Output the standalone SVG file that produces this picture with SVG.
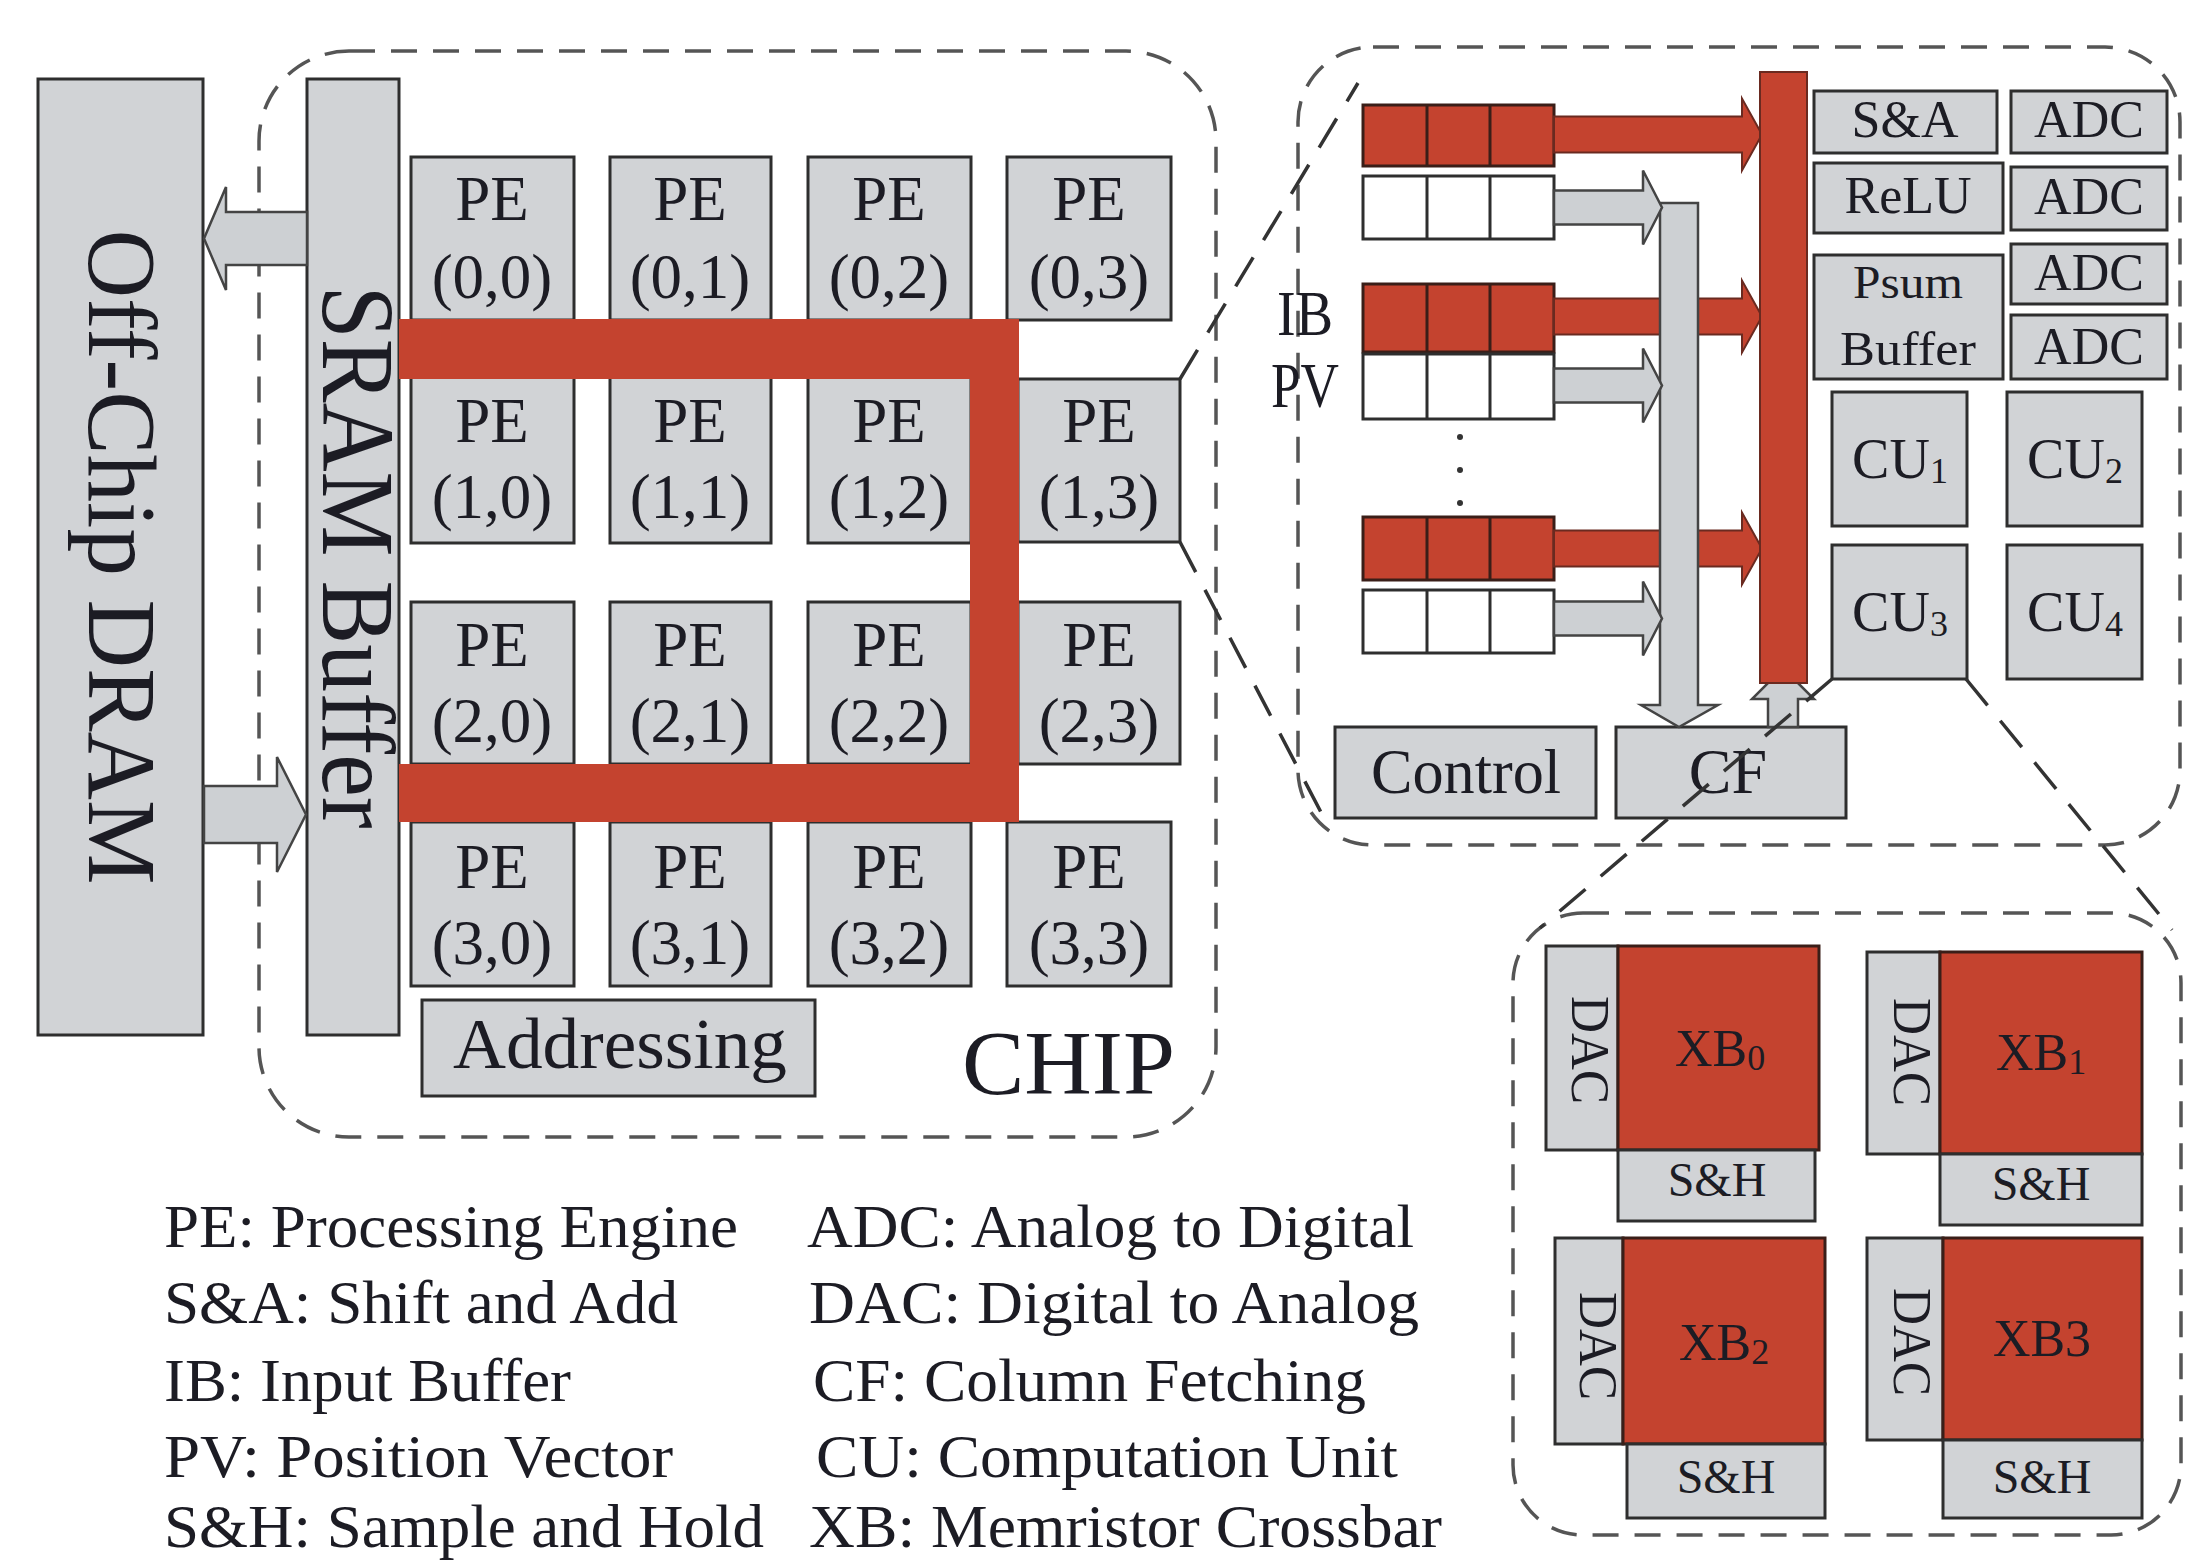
<svg xmlns="http://www.w3.org/2000/svg" width="2185" height="1562" viewBox="0 0 2185 1562">
<style>
.box{fill:#d1d3d6;stroke:#2e2e2e;stroke-width:3}
.red{fill:#c4432f;stroke:#3a1e18;stroke-width:3}
.wht{fill:#ffffff;stroke:#2e2e2e;stroke-width:3}
.t{font-family:"Liberation Serif","Times New Roman",serif;fill:#1c1c24}
.c{text-anchor:middle}
.pe{font-size:63px}
.lg{font-size:62px}
.sm{font-size:52px}
.dash{fill:none;stroke:#555;stroke-width:3.5;stroke-dasharray:26 16}
.zl{fill:none;stroke:#333;stroke-width:3.5;stroke-dasharray:34 20}
.garr{fill:#cdd0d3;stroke:#444;stroke-width:2.5;stroke-linejoin:miter}
.rarr{fill:#c4432f;stroke:#6a2a20;stroke-width:2}
</style>
<rect width="2185" height="1562" fill="#ffffff"/>

<!-- boundaries -->
<g id="chip-boundary"><rect class="dash" x="259" y="51" width="957" height="1086" rx="90"/></g>
<g id="pe-detail-boundary"><rect class="dash" x="1298" y="47" width="882" height="798" rx="75"/></g>
<g id="cu-detail-boundary"><rect class="dash" x="1513" y="913" width="668" height="622" rx="70"/></g>

<g id="dram"><rect class="box" x="38" y="79" width="165" height="956"/>
<text class="t c" transform="translate(121,557) rotate(90)" y="32" font-size="98" textLength="655" lengthAdjust="spacingAndGlyphs">Off-Chip DRAM</text></g>
<g id="sram"><rect class="box" x="307" y="79" width="92" height="956"/>
<text class="t c" transform="translate(357,557) rotate(90)" y="34" font-size="104" textLength="543" lengthAdjust="spacingAndGlyphs">SRAM Buffer</text></g>

<!-- PE grid -->
<g id="pe00"><rect class="box" x="411" y="157" width="163" height="163"/><text class="t c pe" x="492" y="220">PE</text><text class="t c pe" x="492" y="298">(0,0)</text></g>
<g id="pe01"><rect class="box" x="610" y="157" width="161" height="163"/><text class="t c pe" x="690" y="220">PE</text><text class="t c pe" x="690" y="298">(0,1)</text></g>
<g id="pe02"><rect class="box" x="808" y="157" width="163" height="163"/><text class="t c pe" x="889" y="220">PE</text><text class="t c pe" x="889" y="298">(0,2)</text></g>
<g id="pe03"><rect class="box" x="1007" y="157" width="164" height="163"/><text class="t c pe" x="1089" y="220">PE</text><text class="t c pe" x="1089" y="298">(0,3)</text></g>
<g id="pe10"><rect class="box" x="411" y="376" width="163" height="167"/><text class="t c pe" x="492" y="442">PE</text><text class="t c pe" x="492" y="518">(1,0)</text></g>
<g id="pe11"><rect class="box" x="610" y="376" width="161" height="167"/><text class="t c pe" x="690" y="442">PE</text><text class="t c pe" x="690" y="518">(1,1)</text></g>
<g id="pe12"><rect class="box" x="808" y="376" width="163" height="167"/><text class="t c pe" x="889" y="442">PE</text><text class="t c pe" x="889" y="518">(1,2)</text></g>
<g id="pe13"><rect class="box" x="1018" y="379" width="162" height="163"/><text class="t c pe" x="1099" y="442">PE</text><text class="t c pe" x="1099" y="518">(1,3)</text></g>
<g id="pe20"><rect class="box" x="411" y="602" width="163" height="162"/><text class="t c pe" x="492" y="666">PE</text><text class="t c pe" x="492" y="742">(2,0)</text></g>
<g id="pe21"><rect class="box" x="610" y="602" width="161" height="162"/><text class="t c pe" x="690" y="666">PE</text><text class="t c pe" x="690" y="742">(2,1)</text></g>
<g id="pe22"><rect class="box" x="808" y="602" width="163" height="162"/><text class="t c pe" x="889" y="666">PE</text><text class="t c pe" x="889" y="742">(2,2)</text></g>
<g id="pe23"><rect class="box" x="1018" y="602" width="162" height="162"/><text class="t c pe" x="1099" y="666">PE</text><text class="t c pe" x="1099" y="742">(2,3)</text></g>
<g id="pe30"><rect class="box" x="411" y="822" width="163" height="164"/><text class="t c pe" x="492" y="888">PE</text><text class="t c pe" x="492" y="964">(3,0)</text></g>
<g id="pe31"><rect class="box" x="610" y="822" width="161" height="164"/><text class="t c pe" x="690" y="888">PE</text><text class="t c pe" x="690" y="964">(3,1)</text></g>
<g id="pe32"><rect class="box" x="808" y="822" width="163" height="164"/><text class="t c pe" x="889" y="888">PE</text><text class="t c pe" x="889" y="964">(3,2)</text></g>
<g id="pe33"><rect class="box" x="1007" y="822" width="164" height="164"/><text class="t c pe" x="1089" y="888">PE</text><text class="t c pe" x="1089" y="964">(3,3)</text></g>

<g id="addressing"><rect class="box" x="422" y="1000" width="393" height="96"/><text class="t c" x="620" y="1068" font-size="72" textLength="334" lengthAdjust="spacingAndGlyphs">Addressing</text></g>
<g id="chip-label"><text class="t" x="962" y="1094" font-size="90" textLength="213" lengthAdjust="spacingAndGlyphs">CHIP</text></g>

<!-- PE detail -->
<g id="ib-pv-label"><text class="t c" x="1305" y="335" font-size="64" textLength="56" lengthAdjust="spacingAndGlyphs">IB</text><text class="t c" x="1305" y="407" font-size="64" textLength="68" lengthAdjust="spacingAndGlyphs">PV</text></g>
<g id="ib1"><rect class="red" x="1363" y="105" width="191" height="61"/><path d="M1427,105V166M1490,105V166" stroke="#3a1e18" stroke-width="3"/></g>
<g id="pv1"><rect class="wht" x="1363" y="176" width="191" height="63"/><path d="M1427,176V239M1490,176V239" stroke="#2e2e2e" stroke-width="3"/></g>
<g id="ib2"><rect class="red" x="1363" y="284" width="191" height="68"/><path d="M1427,284V352M1490,284V352" stroke="#3a1e18" stroke-width="3"/></g>
<g id="pv2"><rect class="wht" x="1363" y="354" width="191" height="65"/><path d="M1427,354V419M1490,354V419" stroke="#2e2e2e" stroke-width="3"/></g>
<g id="ib3"><rect class="red" x="1363" y="517" width="191" height="63"/><path d="M1427,517V580M1490,517V580" stroke="#3a1e18" stroke-width="3"/></g>
<g id="pv3"><rect class="wht" x="1363" y="590" width="191" height="63"/><path d="M1427,590V653M1490,590V653" stroke="#2e2e2e" stroke-width="3"/></g>
<g id="dots" fill="#333"><circle cx="1460" cy="437" r="3"/><circle cx="1460" cy="470" r="3"/><circle cx="1460" cy="503" r="3"/></g>

<g id="sa"><rect class="box" x="1814" y="91" width="183" height="62"/><text class="t c sm" x="1905" y="137">S&amp;A</text></g>
<g id="adc1"><rect class="box" x="2011" y="91" width="156" height="62"/><text class="t c sm" x="2089" y="137">ADC</text></g>
<g id="relu"><rect class="box" x="1814" y="163" width="189" height="70"/><text class="t c sm" x="1908" y="213">ReLU</text></g>
<g id="adc2"><rect class="box" x="2011" y="167" width="156" height="63"/><text class="t c sm" x="2089" y="214">ADC</text></g>
<g id="psum"><rect class="box" x="1814" y="255" width="189" height="124"/><text class="t c" x="1908" y="298" font-size="46" textLength="110" lengthAdjust="spacingAndGlyphs">Psum</text><text class="t c" x="1908" y="365" font-size="48" textLength="136" lengthAdjust="spacingAndGlyphs">Buffer</text></g>
<g id="adc3"><rect class="box" x="2011" y="244" width="156" height="60"/><text class="t c sm" x="2089" y="290">ADC</text></g>
<g id="adc4"><rect class="box" x="2011" y="315" width="156" height="64"/><text class="t c sm" x="2089" y="364">ADC</text></g>
<g id="cu1"><rect class="box" x="1832" y="392" width="135" height="134"/><text class="t c" x="1900" y="478" font-size="56">CU<tspan font-size="36" dy="5">1</tspan></text></g>
<g id="cu2"><rect class="box" x="2007" y="392" width="135" height="134"/><text class="t c" x="2075" y="478" font-size="56">CU<tspan font-size="36" dy="5">2</tspan></text></g>
<g id="cu3"><rect class="box" x="1832" y="545" width="135" height="134"/><text class="t c" x="1900" y="631" font-size="56">CU<tspan font-size="36" dy="5">3</tspan></text></g>
<g id="cu4"><rect class="box" x="2007" y="545" width="135" height="134"/><text class="t c" x="2075" y="631" font-size="56">CU<tspan font-size="36" dy="5">4</tspan></text></g>
<g id="control"><rect class="box" x="1335" y="727" width="261" height="91"/><text class="t c" x="1466" y="793" font-size="64" textLength="190" lengthAdjust="spacingAndGlyphs">Control</text></g>
<g id="cf"><rect class="box" x="1616" y="727" width="230" height="91"/><text class="t c" x="1728" y="793" font-size="64">CF</text></g>

<!-- crossbars -->
<g id="xb0"><rect class="box" x="1546" y="946" width="72" height="204"/><rect class="red" x="1618" y="946" width="201" height="204"/><rect class="box" x="1618" y="1150" width="197" height="71"/>
<text class="t c" transform="translate(1590,1050) rotate(90)" y="18" font-size="54" textLength="108" lengthAdjust="spacingAndGlyphs">DAC</text>
<text class="t c" x="1720" y="1066" font-size="52" fill="#2a1510">XB<tspan font-size="36" dy="4">0</tspan></text>
<text class="t c" x="1717" y="1196" font-size="48">S&amp;H</text></g>
<g id="xb1"><rect class="box" x="1867" y="952" width="73" height="202"/><rect class="red" x="1940" y="952" width="202" height="202"/><rect class="box" x="1940" y="1154" width="202" height="71"/>
<text class="t c" transform="translate(1912,1052) rotate(90)" y="18" font-size="54" textLength="108" lengthAdjust="spacingAndGlyphs">DAC</text>
<text class="t c" x="2041" y="1070" font-size="52" fill="#2a1510">XB<tspan font-size="36" dy="4">1</tspan></text>
<text class="t c" x="2041" y="1200" font-size="48">S&amp;H</text></g>
<g id="xb2"><rect class="box" x="1555" y="1238" width="68" height="206"/><rect class="red" x="1623" y="1238" width="202" height="206"/><rect class="box" x="1627" y="1444" width="198" height="74"/>
<text class="t c" transform="translate(1598,1346) rotate(90)" y="18" font-size="54" textLength="108" lengthAdjust="spacingAndGlyphs">DAC</text>
<text class="t c" x="1724" y="1360" font-size="52" fill="#2a1510">XB<tspan font-size="36" dy="4">2</tspan></text>
<text class="t c" x="1726" y="1493" font-size="48">S&amp;H</text></g>
<g id="xb3"><rect class="box" x="1867" y="1238" width="76" height="202"/><rect class="red" x="1943" y="1238" width="199" height="202"/><rect class="box" x="1943" y="1440" width="199" height="78"/>
<text class="t c" transform="translate(1912,1342) rotate(90)" y="18" font-size="54" textLength="108" lengthAdjust="spacingAndGlyphs">DAC</text>
<text class="t c" x="2042" y="1356" font-size="52" fill="#2a1510">XB3</text>
<text class="t c" x="2042" y="1493" font-size="48">S&amp;H</text></g>

<!-- connectors -->
<g id="connectors">
<path class="garr" d="M307,212H226V187L204,238.5L226,290V265H307Z"/>
<path class="garr" d="M204,786H277V757L306,814.5L277,872V843H204Z"/>
<path d="M399,319H1019V822H399V764H970V379H399Z" fill="#c4432f"/>
<path class="zl" d="M1180,379L1358,83"/>
<path class="zl" d="M1180,542L1325,820"/>
<path class="rarr" d="M1554,116.5H1742V98.5L1762,134.5L1742,170.5V152.5H1554Z"/>
<path class="rarr" d="M1554,298.5H1742V280.5L1762,316.5L1742,352.5V334.5H1554Z"/>
<path class="rarr" d="M1554,530.5H1742V512.5L1762,548.5L1742,584.5V566.5H1554Z"/>
<path class="garr" d="M1660,203H1698V705H1718L1679,727L1641,705H1660Z"/>
<path class="garr" d="M1554,190.5H1643V170.5L1662,207.5L1643,244.5V224.5H1554Z"/>
<path class="garr" d="M1554,368.5H1643V348.5L1662,385.5L1643,422.5V402.5H1554Z"/>
<path class="garr" d="M1554,601.5H1643V581.5L1662,618.5L1643,655.5V635.5H1554Z"/>
<path class="garr" d="M1768,727V699H1752L1783,668L1814,699H1798V727Z"/>
<rect x="1760" y="72" width="47" height="611" fill="#c4432f" stroke="#6a2a20" stroke-width="2"/>
<path class="zl" d="M1832,679L1540,928"/>
<path class="zl" d="M1966,679L2172,930"/>
</g>

<!-- legend -->
<g id="legend" class="t lg">
<text x="164" y="1247" textLength="574" lengthAdjust="spacingAndGlyphs">PE: Processing Engine</text>
<text x="164" y="1323" textLength="514" lengthAdjust="spacingAndGlyphs">S&amp;A: Shift and Add</text>
<text x="164" y="1401" textLength="407" lengthAdjust="spacingAndGlyphs">IB: Input Buffer</text>
<text x="164" y="1477" textLength="509" lengthAdjust="spacingAndGlyphs">PV: Position Vector</text>
<text x="164" y="1547" textLength="600" lengthAdjust="spacingAndGlyphs">S&amp;H: Sample and Hold</text>
<text x="807" y="1247" textLength="607" lengthAdjust="spacingAndGlyphs">ADC: Analog to Digital</text>
<text x="809" y="1323" textLength="610" lengthAdjust="spacingAndGlyphs">DAC: Digital to Analog</text>
<text x="813" y="1401" textLength="553" lengthAdjust="spacingAndGlyphs">CF: Column Fetching</text>
<text x="816" y="1477" textLength="582" lengthAdjust="spacingAndGlyphs">CU: Computation Unit</text>
<text x="809" y="1547" textLength="633" lengthAdjust="spacingAndGlyphs">XB: Memristor Crossbar</text>
</g>
</svg>
